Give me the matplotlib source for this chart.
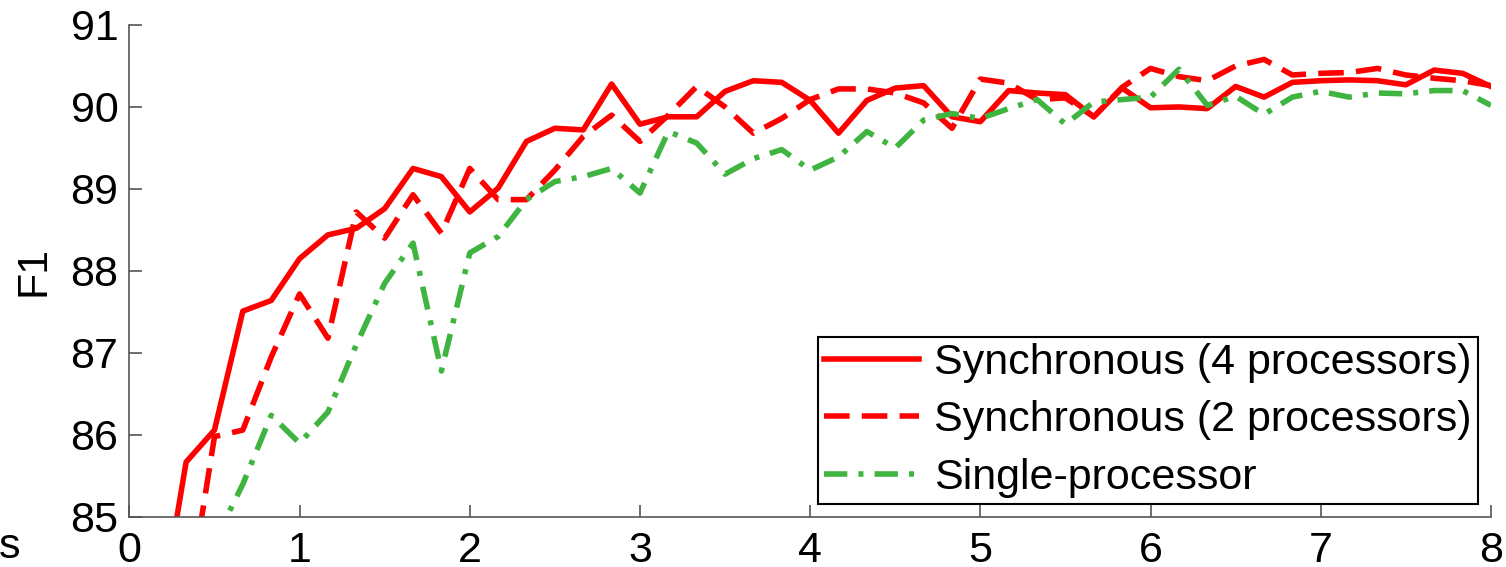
import matplotlib
matplotlib.use("Agg")
import matplotlib.pyplot as plt

# =========================
# DATA (x every 1/6 unit)
# =========================
x_sync4 = [k / 6 for k in range(1, 49)]
f1_sync4 = [83.6, 85.67, 86.06, 87.51, 87.64, 88.15, 88.44, 88.52, 88.76, 89.25,
            89.15, 88.72, 89.01, 89.58, 89.74, 89.72, 90.28, 89.79, 89.88, 89.88,
            90.19, 90.32, 90.30, 90.08, 89.68, 90.08, 90.23, 90.26, 89.88, 89.82,
            90.20, 90.17, 90.15, 89.88, 90.23, 89.99, 90.00, 89.98, 90.25, 90.12,
            90.30, 90.32, 90.33, 90.32, 90.27, 90.45, 90.41, 90.25]

x_sync2 = [k / 6 for k in range(2, 49)]
f1_sync2 = [83.8, 85.98, 86.06, 86.95, 87.72, 87.18, 88.72, 88.40, 88.93, 88.46,
            89.25, 88.87, 88.87, 89.23, 89.64, 89.90, 89.58, 89.90, 90.25, 90.00,
            89.68, 89.86, 90.09, 90.22, 90.22, 90.17, 90.05, 89.74, 90.34, 90.29,
            90.09, 90.11, 89.88, 90.24, 90.47, 90.37, 90.32, 90.50, 90.58, 90.39,
            90.41, 90.42, 90.47, 90.39, 90.35, 90.32, 90.26]

x_single = [k / 6 for k in range(3, 49)]
f1_single = [84.7, 85.40, 86.24, 85.90, 86.28, 87.10, 87.85, 88.34, 86.78, 88.22,
             88.42, 88.87, 89.09, 89.15, 89.25, 88.95, 89.70, 89.56, 89.18, 89.37,
             89.48, 89.23, 89.39, 89.70, 89.50, 89.84, 89.92, 89.86, 89.98, 90.09,
             89.79, 90.06, 90.09, 90.12, 90.46, 90.02, 90.13, 89.91, 90.12, 90.19,
             90.12, 90.17, 90.16, 90.20, 90.20, 90.02]

labels = ["Synchronous (4 processors)", "Synchronous (2 processors)", "Single-processor"]

xticks = [0, 1, 2, 3, 4, 5, 6, 7, 8]
yticks = [85, 86, 87, 88, 89, 90, 91]

# =========================
# GRAF
# =========================
plt.rcParams["font.family"] = ["Liberation Sans", "DejaVu Sans"]

fig = plt.figure(figsize=(15.06, 5.67), dpi=100)
ax = fig.add_axes([0.0859, 0.0882, 0.9041, 0.8678])

lw = 4.0
ax.plot(x_sync4, f1_sync4, color="#ff0000", lw=lw, linestyle="-", label=labels[0])
ax.plot(x_sync2, f1_sync2, color="#ff0000", lw=lw, linestyle=(0, (4.6, 2.2)), label=labels[1])
ax.plot(x_single, f1_single, color="#40b440", lw=lw, linestyle=(0, (4.2, 2.0, 0.9, 2.0)), label=labels[2])

ax.set_xlim(0, 8)
ax.set_ylim(85, 91)
ax.set_xticks(xticks)
ax.set_yticks(yticks)
ax.tick_params(direction="in", length=9, width=1.2, color="#555555",
               labelsize=31, pad=8)
ax.tick_params(axis="x", pad=10)

for side in ["top", "right"]:
    ax.spines[side].set_visible(False)
for side in ["left", "bottom"]:
    ax.spines[side].set_color("#555555")
    ax.spines[side].set_linewidth(1.2)

ax.set_ylabel("F1", fontsize=31, labelpad=12)

leg = ax.legend(loc="lower right", fontsize=31, frameon=True, fancybox=False,
                framealpha=1, edgecolor="black", handlelength=2.2,
                handletextpad=0.35, labelspacing=0.4, borderpad=0.15,
                borderaxespad=0.3)
leg.get_frame().set_linewidth(1.5)

fig.text(-0.001, 0.035, "s", fontsize=31, ha="left", va="center")

fig.savefig("out.png", dpi=100)
